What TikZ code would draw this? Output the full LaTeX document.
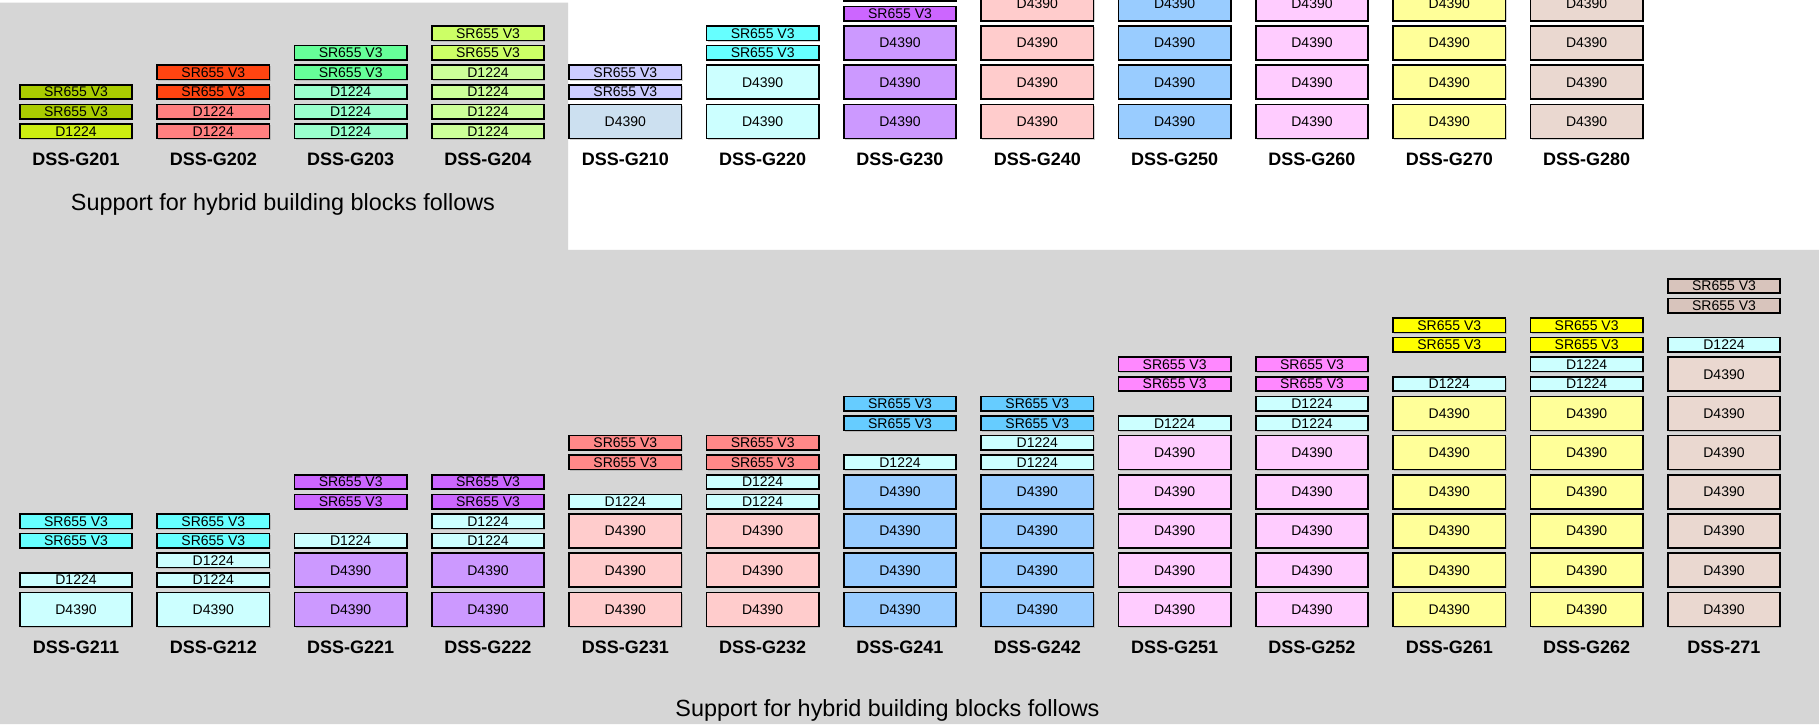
\documentclass[tikz,border=0pt]{standalone}
\usepackage{fontspec}
\setmainfont{Liberation Sans}
\usetikzlibrary{shadows}

\definecolor{panel}{RGB}{214,214,214}
\definecolor{olive}{RGB}{170,204,0}
\definecolor{lime}{RGB}{204,238,17}
\definecolor{tomato}{RGB}{255,68,17}
\definecolor{salmon}{RGB}{255,128,128}
\definecolor{mint}{RGB}{102,255,153}
\definecolor{mintlight}{RGB}{153,255,204}
\definecolor{chartreuse}{RGB}{204,255,102}
\definecolor{chartreuselight}{RGB}{204,255,153}
\definecolor{lavender}{RGB}{204,204,255}
\definecolor{steel}{RGB}{204,224,240}
\definecolor{aqua}{RGB}{102,255,255}
\definecolor{aqualight}{RGB}{204,255,255}
\definecolor{orchid}{RGB}{204,102,255}
\definecolor{orchidlight}{RGB}{204,153,255}
\definecolor{rose}{RGB}{255,136,136}
\definecolor{roselight}{RGB}{255,204,204}
\definecolor{sky}{RGB}{102,204,255}
\definecolor{skylight}{RGB}{153,204,255}
\definecolor{fuchsia}{RGB}{255,136,255}
\definecolor{fuchsialight}{RGB}{255,204,255}
\definecolor{lemon}{RGB}{255,255,0}
\definecolor{lemonlight}{RGB}{255,255,153}
\definecolor{taupe}{RGB}{216,196,188}
\definecolor{taupelight}{RGB}{234,216,208}

\tikzset{
	unit/.style={draw, line width=1.6pt, inner sep=0pt, anchor=south,
		minimum width=112.4pt, font=\fontsize{14}{16}\selectfont,
		drop shadow={shadow xshift=1.2pt, shadow yshift=-1.2pt, opacity=.35}},
	unitb/.style={unit, minimum height=34pt, fill=fillb, node contents={D4390}},
	unitd/.style={unit, minimum height=14.4pt, fill=filld, node contents={D1224}},
	units/.style={unit, minimum height=14.4pt, fill=fills, node contents={SR655 V3}},
	model/.style={font=\fontsize{18}{20}\selectfont\bfseries, anchor=base, inner sep=0pt},
	note/.style={font=\fontsize{23.4}{26}\selectfont, anchor=base, inner sep=0pt},
}

% #1 model, #2 column, #3 base line, #4-#6 fills of D4390, D1224, SR655, #7 slot/kind list
\newcommand\rack[7]{%
	\colorlet{fillb}{#4}\colorlet{filld}{#5}\colorlet{fills}{#6}%
	\foreach \s/\k in {#7}
		\node[unit\k, name=#1-\s, at={(76+137.33*#2, #3+\s*\pitch)}];
	\node[model] (#1) at (76+137.33*#2, #3-26.5) {#1};
}

\begin{document}
\begin{tikzpicture}[x=1pt,y=1pt]
	\def\pitch{19.6};
	\def\topbase{584.8};
	\def\lowbase{96.8};
	\useasboundingbox (0,0) rectangle (1819,724);
	\clip (0,0) rectangle (1819,724);
	\fill[white] (0,0) rectangle (1819,724);
	\fill[panel] (0,0) -- (0,721.3) -- (568,721.3) -- (568,474) -- (1819,474) -- (1819,0) -- cycle;

	% building blocks, upper row
	\rack{DSS-G201}{0}{\topbase}{white}{lime}{olive}{0/d,1/s,2/s}
	\rack{DSS-G202}{1}{\topbase}{white}{salmon}{tomato}{0/d,1/d,2/s,3/s}
	\rack{DSS-G203}{2}{\topbase}{white}{mintlight}{mint}{0/d,1/d,2/d,3/s,4/s}
	\rack{DSS-G204}{3}{\topbase}{white}{chartreuselight}{chartreuse}{0/d,1/d,2/d,3/d,4/s,5/s}
	\rack{DSS-G210}{4}{\topbase}{steel}{white}{lavender}{0/b,2/s,3/s}
	\rack{DSS-G220}{5}{\topbase}{aqualight}{white}{aqua}{0/b,2/b,4/s,5/s}
	\rack{DSS-G230}{6}{\topbase}{orchidlight}{white}{orchid}{0/b,2/b,4/b,6/s,7/s}
	\rack{DSS-G240}{7}{\topbase}{roselight}{white}{rose}{0/b,2/b,4/b,6/b}
	\rack{DSS-G250}{8}{\topbase}{skylight}{white}{sky}{0/b,2/b,4/b,6/b}
	\rack{DSS-G260}{9}{\topbase}{fuchsialight}{white}{fuchsia}{0/b,2/b,4/b,6/b}
	\rack{DSS-G270}{10}{\topbase}{lemonlight}{white}{lemon}{0/b,2/b,4/b,6/b}
	\rack{DSS-G280}{11}{\topbase}{taupelight}{white}{taupe}{0/b,2/b,4/b,6/b}
	\node[note] (upnote) at (283,513.3) {Support for hybrid building blocks follows};

	% building blocks, lower row
	\rack{DSS-G211}{0}{\lowbase}{aqualight}{aqualight}{aqua}{0/b,2/d,4/s,5/s}
	\rack{DSS-G212}{1}{\lowbase}{aqualight}{aqualight}{aqua}{0/b,2/d,3/d,4/s,5/s}
	\rack{DSS-G221}{2}{\lowbase}{orchidlight}{aqualight}{orchid}{0/b,2/b,4/d,6/s,7/s}
	\rack{DSS-G222}{3}{\lowbase}{orchidlight}{aqualight}{orchid}{0/b,2/b,4/d,5/d,6/s,7/s}
	\rack{DSS-G231}{4}{\lowbase}{roselight}{aqualight}{rose}{0/b,2/b,4/b,6/d,8/s,9/s}
	\rack{DSS-G232}{5}{\lowbase}{roselight}{aqualight}{rose}{0/b,2/b,4/b,6/d,7/d,8/s,9/s}
	\rack{DSS-G241}{6}{\lowbase}{skylight}{aqualight}{sky}{0/b,2/b,4/b,6/b,8/d,10/s,11/s}
	\rack{DSS-G242}{7}{\lowbase}{skylight}{aqualight}{sky}{0/b,2/b,4/b,6/b,8/d,9/d,10/s,11/s}
	\rack{DSS-G251}{8}{\lowbase}{fuchsialight}{aqualight}{fuchsia}{0/b,2/b,4/b,6/b,8/b,10/d,12/s,13/s}
	\rack{DSS-G252}{9}{\lowbase}{fuchsialight}{aqualight}{fuchsia}{0/b,2/b,4/b,6/b,8/b,10/d,11/d,12/s,13/s}
	\rack{DSS-G261}{10}{\lowbase}{lemonlight}{aqualight}{lemon}{0/b,2/b,4/b,6/b,8/b,10/b,12/d,14/s,15/s}
	\rack{DSS-G262}{11}{\lowbase}{lemonlight}{aqualight}{lemon}{0/b,2/b,4/b,6/b,8/b,10/b,12/d,13/d,14/s,15/s}
	\rack{DSS-271}{12}{\lowbase}{taupelight}{aqualight}{taupe}{0/b,2/b,4/b,6/b,8/b,10/b,12/b,14/d,16/s,17/s}
	\node[note] (lownote) at (887.5,7.3) {Support for hybrid building blocks follows};
\end{tikzpicture}
\end{document}
